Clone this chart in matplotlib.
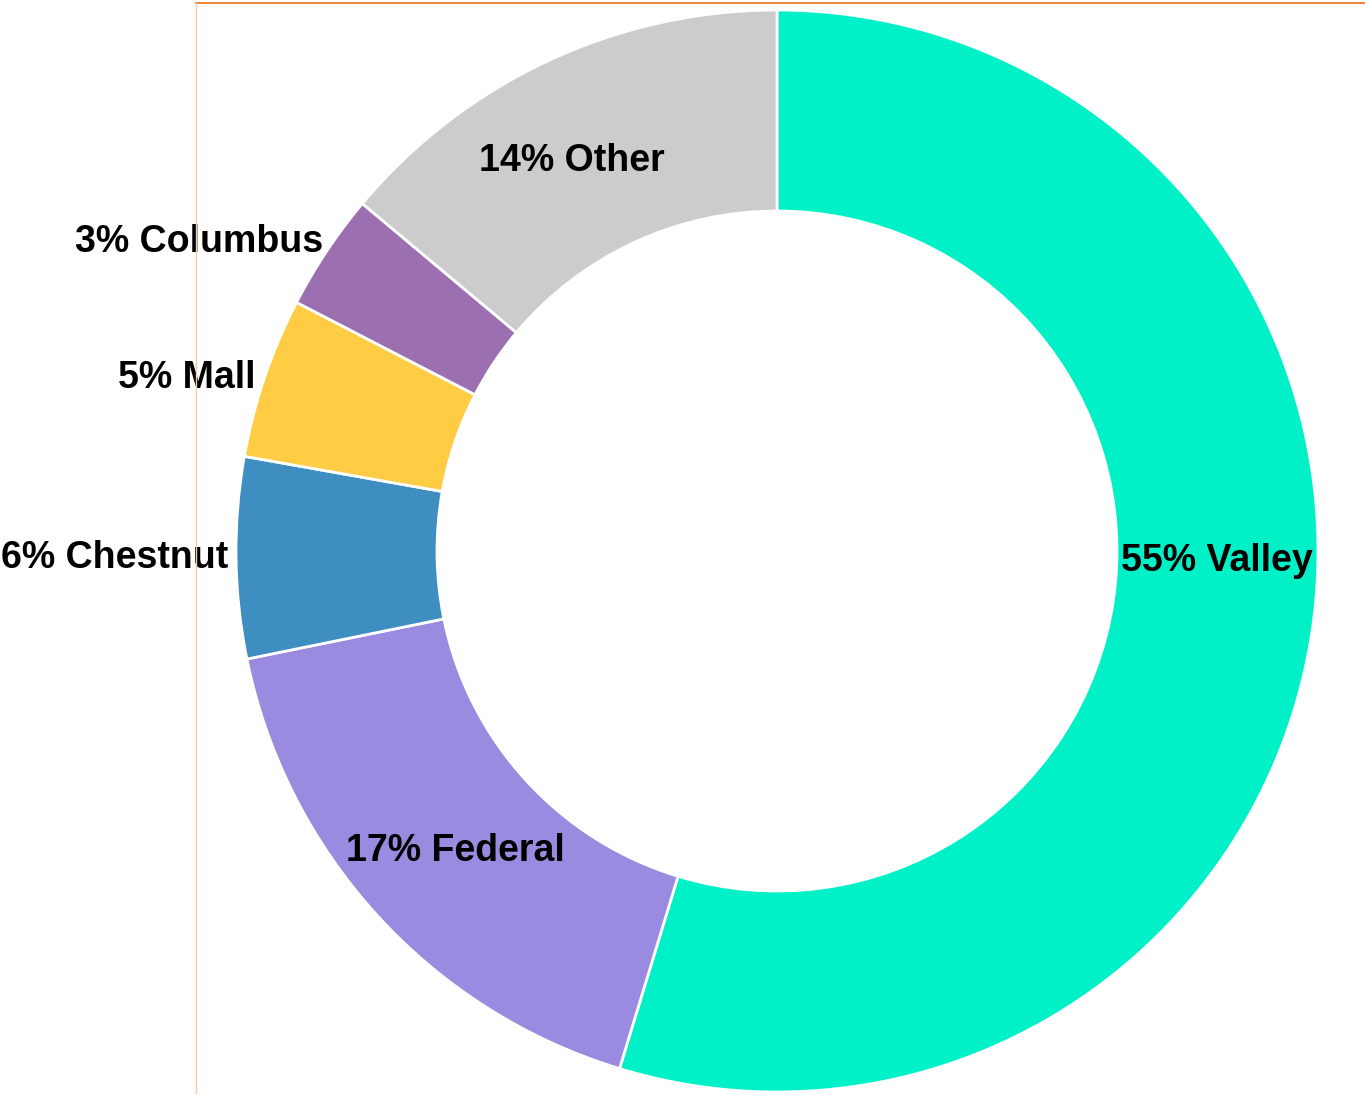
import numpy as np
import matplotlib
matplotlib.use("Agg")
import matplotlib.pyplot as plt
from matplotlib.lines import Line2D

# Data
categories = ["Valley", "Federal", "Chestnut", "Mall", "Columbus", "Other"]
shares = [54.7, 17.1, 6.0, 4.8, 3.5, 13.9]
pct_labels = [55, 17, 6, 5, 3, 14]
colors = ["#00F0C8", "#9A8AE0", "#3F8EC2", "#FFCC44", "#9B6FB0", "#CCCCCC"]
inside = [True, True, False, False, False, True]

W, H = 1365, 1095
fig = plt.figure(figsize=(W / 100, H / 100), dpi=100)
ax = fig.add_axes([0, 0, 1, 1])

cx, cy = 777, H - 551
R = 541
ring = 201

wedges, _ = ax.pie(shares, colors=colors, startangle=90, counterclock=False,
                   radius=R, center=(cx, cy), frame=True,
                   wedgeprops=dict(width=ring, edgecolor="white", linewidth=2))
ax.set_xlim(0, W)
ax.set_ylim(0, H)
ax.set_aspect("equal")
ax.axis("off")

# label placement tweaks (degrees)
angle_tweak = {"Valley": 7.1, "Other": 2.7, "Federal": 0.7,
               "Chestnut": 0.0, "Mall": 0.4, "Columbus": -0.6}
font = dict(family=["Liberation Sans", "DejaVu Sans"], fontsize=27,
            fontweight="bold", color="black")

for w, cat, p, ins in zip(wedges, categories, pct_labels, inside):
    mid = np.deg2rad((w.theta1 + w.theta2) / 2 + angle_tweak.get(cat, 0))
    text = f"{p}% {cat}"
    if ins:
        r = 440
        ax.text(cx + r * np.cos(mid), cy + r * np.sin(mid), text,
                ha="center", va="center", **font)
    else:
        r = R + 8
        ax.text(cx + r * np.cos(mid), cy + r * np.sin(mid), text,
                ha="right", va="center", **font)

# border lines
fig.add_artist(Line2D([196 / W, 1], [1 - 2.5 / H, 1 - 2.5 / H],
                      transform=fig.transFigure, color="#F07828", lw=1.3))
fig.add_artist(Line2D([196.5 / W, 196.5 / W], [1 - 2.5 / H, 2 / H],
                      transform=fig.transFigure, color="#F9C9A2", lw=1.0))

fig.savefig("out.png", dpi=100)
